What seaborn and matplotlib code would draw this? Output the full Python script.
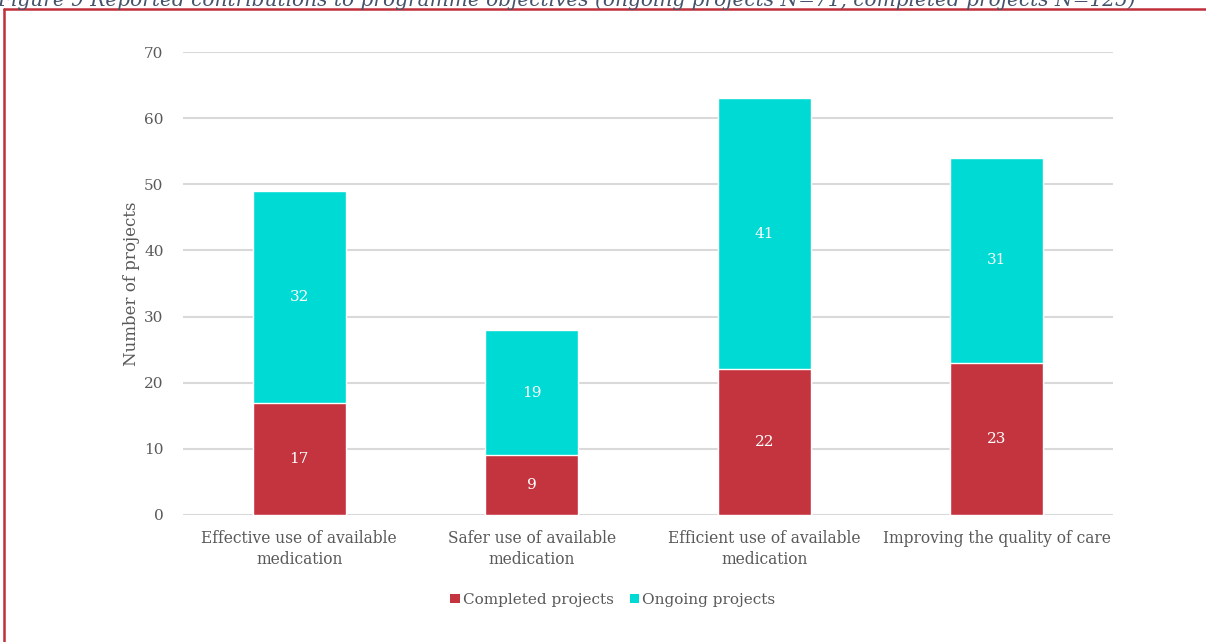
import matplotlib
matplotlib.use("Agg")
import matplotlib.pyplot as plt
import seaborn as sns
import pandas as pd
from matplotlib.patches import Patch
from matplotlib.lines import Line2D

categories = ["Effective use of available\nmedication",
              "Safer use of available\nmedication",
              "Efficient use of available\nmedication",
              "Improving the quality of care"]
completed = [17, 9, 22, 23]
ongoing = [32, 19, 41, 31]
yticks = [0, 10, 20, 30, 40, 50, 60, 70]
title = "Figure 9 Reported contributions to programme objectives (ongoing projects N=71, completed projects N=125)"

RED = "#C4343F"
CYAN = "#00DAD4"
TXT = "#595959"
GRID = "#D9D9D9"

sns.set_theme(style="white")
plt.rcParams["font.family"] = ["DejaVu Serif"]

df = pd.DataFrame({"cat": categories, "completed": completed, "ongoing": ongoing})
df["total"] = df["completed"] + df["ongoing"]

fig = plt.figure(figsize=(12.06, 6.42), dpi=100)
ax = fig.add_axes([183/1206, 1-515/642, (1113-183)/1206, (515-52)/642])

sns.barplot(data=df, x="cat", y="total", color=CYAN, saturation=1, width=0.4, ax=ax, zorder=3)
sns.barplot(data=df, x="cat", y="completed", color=RED, saturation=1, width=0.4, ax=ax, zorder=3)

ax.set_ylim(0, 70)
ax.set_xlim(-0.5, 3.5)
ax.set_yticks(yticks)
ax.yaxis.grid(True, color=GRID, lw=1.5, zorder=0)
ax.set_axisbelow(True)
for s in ax.spines.values():
    s.set_visible(False)
ax.tick_params(axis="both", length=0, colors=TXT)
ax.tick_params(axis="y", pad=14, labelsize=11)
ax.tick_params(axis="x", pad=11, labelsize=11.2)
for lab in ax.get_xticklabels():
    lab.set_linespacing(1.25)
ax.set_xlabel("")
ax.set_ylabel("Number of projects", color=TXT, fontsize=12, labelpad=3)

for i, (c, o) in enumerate(zip(completed, ongoing)):
    ax.text(i, c / 2, str(c), ha="center", va="center", color="white", fontsize=11, zorder=5)
    ax.text(i, c + o / 2, str(o), ha="center", va="center", color="white", fontsize=11, zorder=5)

handles = [Patch(facecolor=RED, edgecolor="none"), Patch(facecolor=CYAN, edgecolor="none")]
fig.legend(handles, ["Completed projects", "Ongoing projects"], loc="center",
           bbox_to_anchor=(613/1206, 1-600/642), ncol=2, frameon=False,
           handlelength=0.6, handleheight=0.6, handletextpad=0.2, columnspacing=1.1,
           fontsize=11, labelcolor=TXT)

# frame border (top and left)
fig.add_artist(Line2D([4/1206, 4/1206], [0, 1-9/642], transform=fig.transFigure, color="#C0303A", lw=1.8))
fig.add_artist(Line2D([4/1206, 1], [1-9/642, 1-9/642], transform=fig.transFigure, color="#C0303A", lw=1.8))

fig.text(-3/1206, 1-6/642, title, ha="left", va="baseline", fontsize=14.5, style="italic",
         color="#44546A")

fig.savefig("out.png", dpi=100)
